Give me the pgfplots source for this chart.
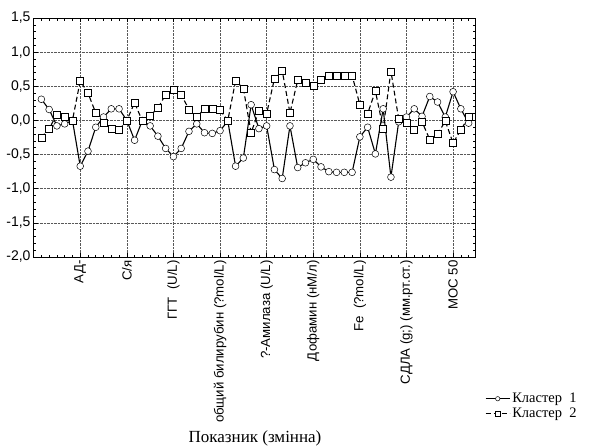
\documentclass[border=0pt]{standalone}
\usepackage{pgfplots}
\pgfplotsset{compat=1.18}
\usepackage{fontspec}
\setmainfont{Liberation Serif}
\setsansfont{Liberation Sans}
\begin{document}
\begin{tikzpicture}
\useasboundingbox (-34pt,-190pt) rectangle (556pt,257pt);
\begin{axis}[
  scale only axis,
  width=442pt, height=239pt,
  xmin=-0.95, xmax=55.95,
  ymin=-2, ymax=1.5,
  axis line style={line width=1pt},
  xtick={5,11,17,23,29,35,41,47,53},
  xticklabels={АД-, С/я, ГГТ~~(U/L), общий билирубин (?mol/L), ?-Амилаза (U/L), Дофамин (нМ/л), Fe~~(?mol/L), СДЛА (g;) (мм.рт.ст.), МОС 50},
  minor xtick={0,...,55},
  ytick={-2,-1.5,...,1.5},
  minor y tick num=4,
  tick align=inside,
  major tick length=4pt,
  minor tick length=2.5pt,
  tick style={black, line width=0.6pt},
  grid=major,
  major grid style={densely dotted, gray!70!black, line width=0.6pt},
  x tick label style={rotate=90, anchor=east, font=\sffamily\fontsize{13.2}{15}\selectfont},
  y tick label style={font=\sffamily\fontsize{14}{16}\selectfont},
  yticklabel style={/pgf/number format/.cd, use comma, fixed, fixed zerofill, precision=1, assume math mode=true},
  xlabel={Показник (змінна)},
  xlabel style={at={(axis description cs:0.5,0)}, anchor=center, yshift=-181pt, font=\rmfamily\fontsize{17}{19}\selectfont},
  legend style={at={(axis description cs:1,0)}, anchor=north west, xshift=8pt, yshift=-133pt, draw=none, fill=none, font=\rmfamily\fontsize{14.5}{16}\selectfont, row sep=0pt, inner sep=1pt},
  legend cell align=left,
  legend image code/.code={\draw[mark repeat=2,mark phase=2,#1] plot coordinates {(0pt,0pt) (12pt,0pt) (24pt,0pt)};},
  legend image post style={mark size=2.2pt},
]
\addplot[black, line width=1.1pt, mark=*, mark size=3.4pt, mark options={fill=white, solid, line width=0.5pt}] coordinates {
(0,0.31) (1,0.16) (2,-0.08) (3,-0.05) (4,0.00) (5,-0.67) (6,-0.45) (7,-0.10) (8,0.05) (9,0.17)
(10,0.17) (11,0.00) (12,-0.29) (13,0.00) (14,-0.08) (15,-0.23) (16,-0.41) (17,-0.53) (18,-0.41) (19,-0.16)
(20,-0.05) (21,-0.18) (22,-0.19) (23,-0.15) (24,-0.01) (25,-0.67) (26,-0.55) (27,0.23) (28,-0.12) (29,-0.08)
(30,-0.72) (31,-0.85) (32,-0.08) (33,-0.69) (34,-0.62) (35,-0.57) (36,-0.68) (37,-0.75) (38,-0.76) (39,-0.76)
(40,-0.76) (41,-0.24) (42,-0.10) (43,-0.49) (44,0.17) (45,-0.83) (46,-0.02) (47,0.05) (48,0.17) (49,0.06)
(50,0.35) (51,0.27) (52,0.05) (53,0.42) (54,0.17) (55,-0.04)
};
\addlegendentry{Кластер~~1}
\addplot[black, line width=1.1pt, dash pattern=on 5pt off 3pt, mark=square*, mark size=3.5pt, mark options={fill=white, solid, line width=0.5pt}] coordinates {
(0,-0.25) (1,-0.12) (2,0.09) (3,0.06) (4,0.00) (5,0.58) (6,0.40) (7,0.11) (8,-0.03) (9,-0.12)
(10,-0.14) (11,0.00) (12,0.26) (13,-0.01) (14,0.07) (15,0.18) (16,0.38) (17,0.45) (18,0.38) (19,0.16)
(20,0.05) (21,0.17) (22,0.17) (23,0.15) (24,0.00) (25,0.58) (26,0.47) (27,-0.18) (28,0.14) (29,0.10)
(30,0.61) (31,0.73) (32,0.11) (33,0.59) (34,0.55) (35,0.51) (36,0.59) (37,0.65) (38,0.66) (39,0.65)
(40,0.66) (41,0.23) (42,0.10) (43,0.43) (44,-0.12) (45,0.72) (46,0.02) (47,-0.03) (48,-0.14) (49,-0.02)
(50,-0.28) (51,-0.20) (52,-0.01) (53,-0.33) (54,-0.14) (55,0.05)
};
\addlegendentry{Кластер~~2}
\end{axis}
\end{tikzpicture}
\end{document}
